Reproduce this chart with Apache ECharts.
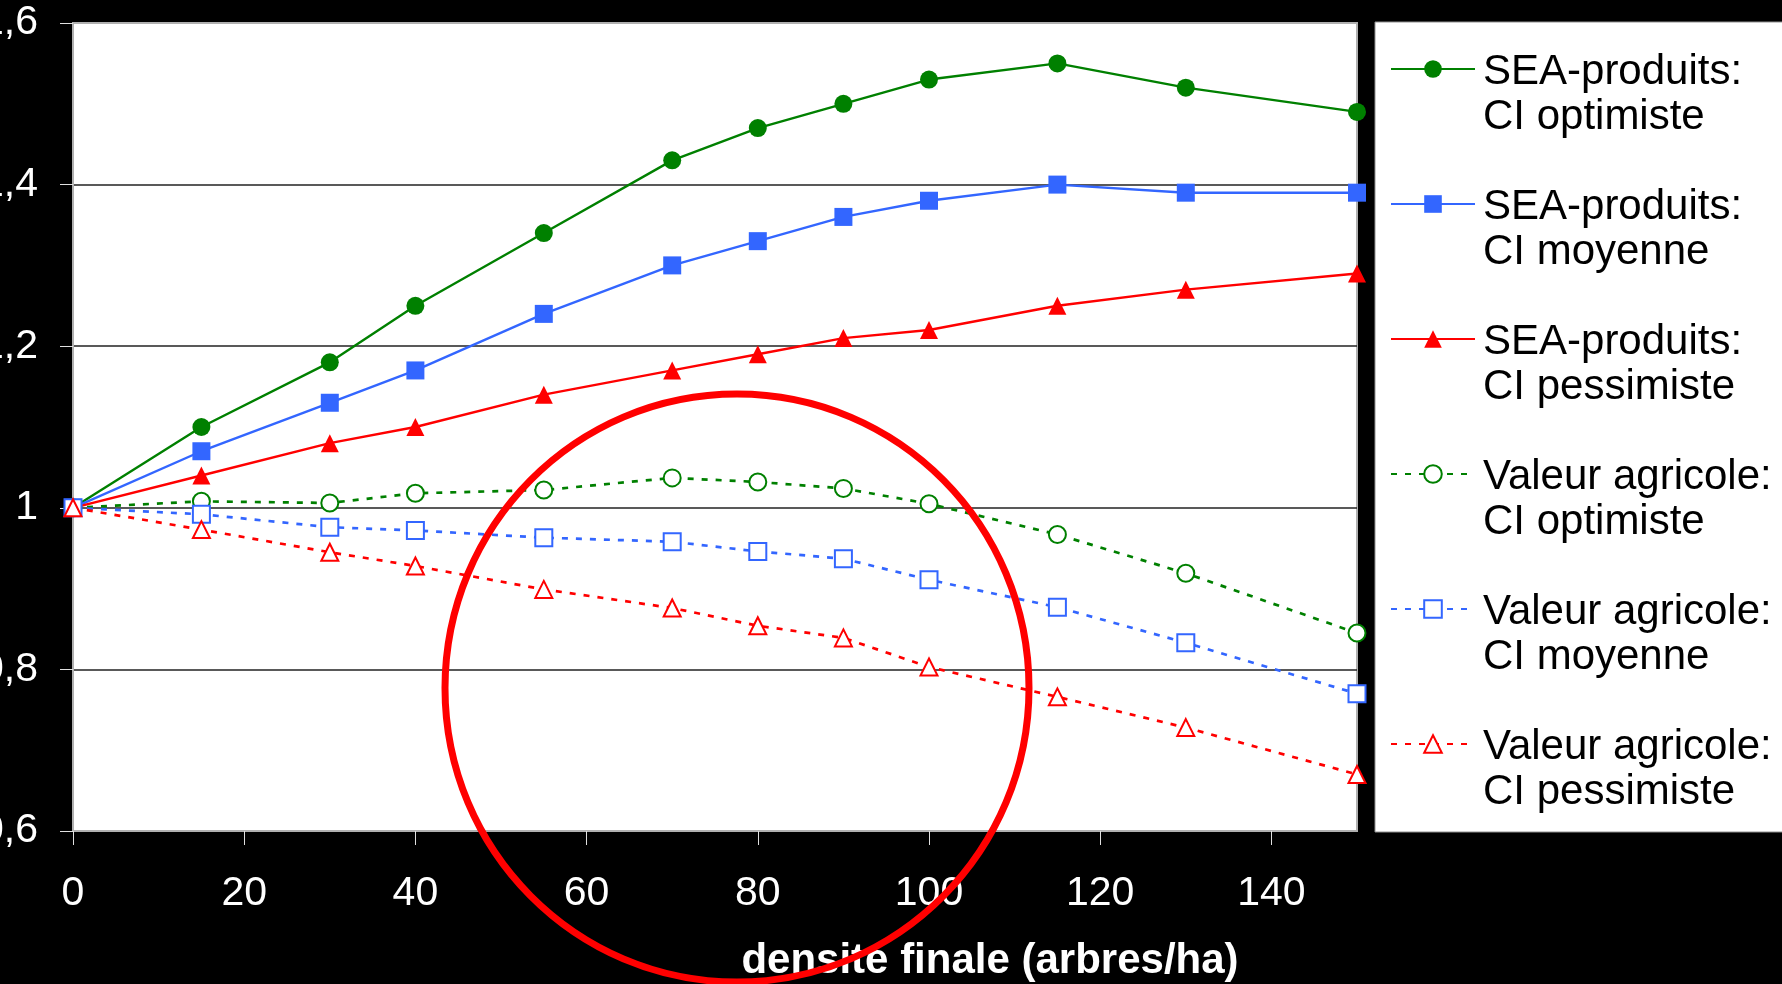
<!DOCTYPE html>
<html>
<head>
<meta charset="utf-8">
<script src="https://cdn.jsdelivr.net/npm/echarts@6/dist/echarts.min.js"></script>
<style>
html,body{margin:0;padding:0;background:#000;}
#chart{width:1782px;height:984px;}
</style>
</head>
<body>
<div id="chart"></div>
<script>
// ---- data ----
const densities = [0, 15, 30, 40, 55, 70, 80, 90, 100, 115, 130, 150];
const seaOptimiste   = [1.00, 1.10, 1.18, 1.25, 1.34, 1.43, 1.47, 1.50, 1.53, 1.55, 1.52, 1.49];
const seaMoyenne     = [1.00, 1.07, 1.13, 1.17, 1.24, 1.30, 1.33, 1.36, 1.38, 1.40, 1.39, 1.39];
const seaPessimiste  = [1.00, 1.04, 1.08, 1.10, 1.14, 1.17, 1.19, 1.21, 1.22, 1.25, 1.27, 1.29];
const valOptimiste   = [1.000, 1.008, 1.006, 1.018, 1.022, 1.037, 1.032, 1.024, 1.005, 0.967, 0.919, 0.845];
const valMoyenne     = [1.000, 0.992, 0.976, 0.972, 0.963, 0.958, 0.946, 0.937, 0.911, 0.877, 0.833, 0.770];
const valPessimiste  = [1.000, 0.973, 0.945, 0.928, 0.899, 0.876, 0.854, 0.839, 0.803, 0.766, 0.728, 0.670];
const seriesNames = [
  'SEA-produits:\nCI optimiste',
  'SEA-produits:\nCI moyenne',
  'SEA-produits:\nCI pessimiste',
  'Valeur agricole:\nCI optimiste',
  'Valeur agricole:\nCI moyenne',
  'Valeur agricole:\nCI pessimiste'
];
const xTickValues = [0, 20, 40, 60, 80, 100, 120, 140];
const xAxisTitle = 'densité finale (arbres/ha)';

// ---- styles ----
const GREEN = '#008000', BLUE = '#3366ff', RED = '#ff0000';
const FONT = "'Liberation Sans', Arial, sans-serif";

function pairs(vals) { return densities.map((d, i) => [d, vals[i]]); }

function solid(name, vals, color, symbol) {
  return {
    name, type: 'line', data: pairs(vals), symbol, symbolSize: 18,
    lineStyle: { color, width: 2.4 },
    itemStyle: { color },
    z: 3
  };
}
function dashed(name, vals, color, symbol) {
  return {
    name, type: 'line', data: pairs(vals), symbol, symbolSize: 17,
    lineStyle: { color, width: 2.7, type: [6, 8] },
    itemStyle: { color, borderColor: color, borderWidth: 2.5 },
    z: 3
  };
}

const chart = echarts.init(document.getElementById('chart'), null, { renderer: 'canvas' });
chart.setOption({
  animation: false,
  backgroundColor: '#000',
  grid: {
    left: 73, top: 23, right: 425, bottom: 153,
    outerBoundsMode: 'none',
    containLabel: false,
    show: true, backgroundColor: '#fff', borderColor: '#b0b0b0', borderWidth: 2
  },
  xAxis: {
    type: 'value', min: 0, max: 150, interval: 20,
    axisLine: { show: true, lineStyle: { color: '#b0b0b0', width: 2 } },
    axisTick: { show: true, inside: false, length: 14, lineStyle: { color: '#e0e0e0', width: 1 }, customValues: xTickValues },
    axisLabel: { color: '#fff', fontSize: 41, fontFamily: FONT, margin: 42, customValues: xTickValues },
    splitLine: { show: false },
    name: xAxisTitle,
    nameLocation: 'middle',
    nameGap: 109,
    nameTextStyle: {
      color: '#fff', fontSize: 42, fontWeight: 'bold',
      fontFamily: FONT,
      padding: [0, 0, 0, 550]
    }
  },
  yAxis: {
    type: 'value', min: 0.6, max: 1.6, interval: 0.2,
    axisLine: { show: true, lineStyle: { color: '#b0b0b0', width: 2 } },
    axisTick: { show: true, inside: false, length: 13, lineStyle: { color: '#e0e0e0', width: 1 } },
    axisLabel: {
      color: '#fff', fontSize: 41, fontFamily: FONT, margin: 35,
      formatter: v => String(Number(v.toFixed(1))).replace('.', ',')
    },
    splitLine: { show: true, showMinLine: false, showMaxLine: false, lineStyle: { color: '#222', width: 1.5 } }
  },
  legend: {
    orient: 'vertical', left: 1390, top: -2, padding: 0, itemGap: -7,
    itemWidth: 84, itemHeight: 22,
    formatter: name => '{gap| }\n' + name,
    textStyle: {
      color: '#000', fontSize: 42, lineHeight: 45, fontFamily: FONT, padding: [0, 0, 0, 3],
      rich: { gap: { fontSize: 42, lineHeight: 52 } }
    },
    data: seriesNames
  },
  graphic: [
    {
      type: 'rect', z: 0, silent: true,
      shape: { x: 1375, y: 22, width: 420, height: 810 },
      style: { fill: '#fff', stroke: '#909090', lineWidth: 1 }
    },
    {
      type: 'ellipse', z: 100, silent: true,
      shape: { cx: 737, cy: 688, rx: 292, ry: 294 },
      style: { fill: 'none', stroke: '#ff0000', lineWidth: 7 }
    }
  ],
  series: [
    solid(seriesNames[0], seaOptimiste, GREEN, 'circle'),
    solid(seriesNames[1], seaMoyenne, BLUE, 'rect'),
    solid(seriesNames[2], seaPessimiste, RED, 'triangle'),
    dashed(seriesNames[3], valOptimiste, GREEN, 'emptyCircle'),
    dashed(seriesNames[4], valMoyenne, BLUE, 'emptyRect'),
    dashed(seriesNames[5], valPessimiste, RED, 'emptyTriangle')
  ]
});
</script>
</body>
</html>
